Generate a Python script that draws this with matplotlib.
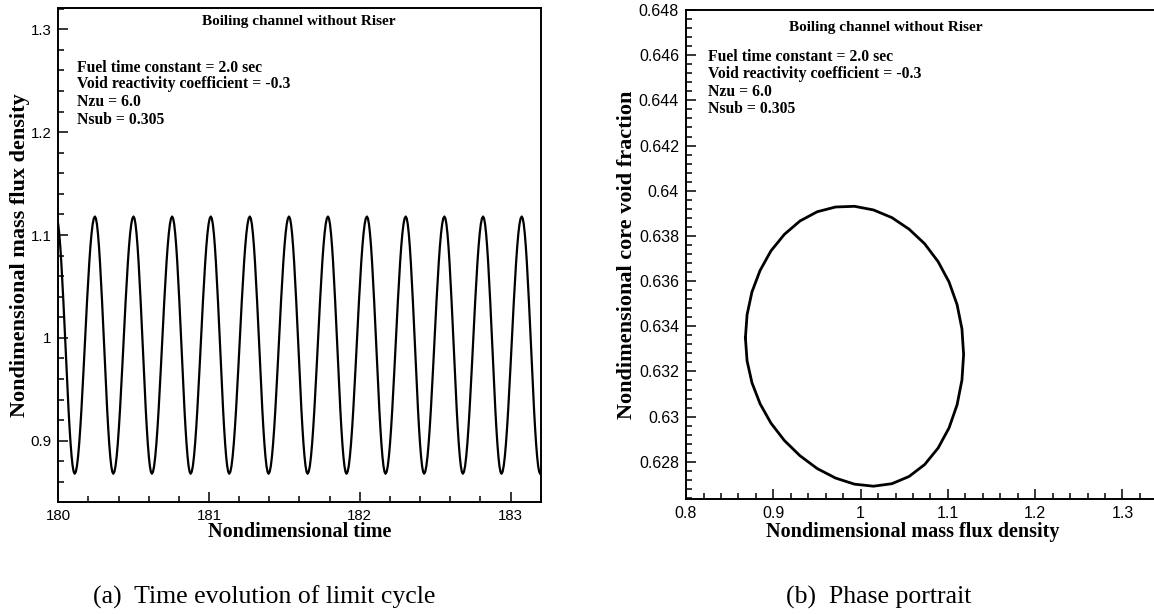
import matplotlib
matplotlib.use("Agg")
import matplotlib.pyplot as plt
from matplotlib.ticker import MultipleLocator, FuncFormatter

# one limit cycle, 36 samples, starting at the mass flux minimum
# fraction of the period at each sample (the rise is a bit slower than the fall)
cycle_phase = [0.0, 0.0291, 0.0581, 0.0872, 0.1162, 0.1453, 0.1743, 0.2034,
               0.2324, 0.2615, 0.2906, 0.3196, 0.3487, 0.3777, 0.4068, 0.4358,
               0.4649, 0.4939, 0.523, 0.5495, 0.576, 0.6025, 0.629, 0.6555,
               0.682, 0.7085, 0.735, 0.7615, 0.788, 0.8145, 0.841, 0.8675,
               0.894, 0.9205, 0.947, 0.9735]
# nondimensional mass flux density
cycle_flux = [0.868, 0.8699, 0.8755, 0.8848, 0.8973, 0.9127, 0.9305, 0.9503,
              0.9713, 0.993, 1.0147, 1.0358, 1.0555, 1.0734, 1.0888, 1.1013,
              1.1105, 1.1161, 1.118, 1.1161, 1.1105, 1.1013, 1.0888, 1.0734,
              1.0555, 1.0358, 1.0147, 0.993, 0.9713, 0.9503, 0.9305, 0.9127,
              0.8973, 0.8848, 0.8755, 0.8699]
# nondimensional core void fraction
cycle_void = [0.63349, 0.63451, 0.63552, 0.63647, 0.63734, 0.63807, 0.63866,
              0.63907, 0.63928, 0.63931, 0.63915, 0.63881, 0.63830, 0.63765,
              0.63686, 0.63596, 0.63496, 0.63388, 0.63275, 0.63162, 0.63052,
              0.62950, 0.62861, 0.62788, 0.62735, 0.62703, 0.62692, 0.62701,
              0.62728, 0.62770, 0.62827, 0.62894, 0.62971, 0.63057, 0.63150,
              0.63247]

# times of the mass flux minima
trough_times = [179.851, 180.109, 180.365, 180.621, 180.878, 181.134, 181.395,
                181.654, 181.912, 182.171, 182.427, 182.684, 182.940, 183.197]

title = "Boiling channel without Riser"
params = ["Fuel time constant = 2.0 sec",
          "Void reactivity coefficient = -0.3",
          "Nzu = 6.0",
          "Nsub = 0.305"]

# time series built from the cycle samples
t = []
g = []
for i in range(len(trough_times) - 1):
    t0, t1 = trough_times[i], trough_times[i + 1]
    for f, v in zip(cycle_phase, cycle_flux):
        t.append(t0 + f * (t1 - t0))
        g.append(v)
t.append(trough_times[-1])
g.append(cycle_flux[0])

serif = "Liberation Serif"
sans = "Liberation Sans"

fig = plt.figure(figsize=(11.54, 6.14), dpi=100)
ax1 = fig.add_axes([0.0505, 0.1829, 0.418, 0.8036])
ax2 = fig.add_axes([0.5945, 0.1868, 0.4107, 0.7969])

fmt = FuncFormatter(lambda v, p: "%g" % round(v, 6))


def style(ax, size):
    for s in ax.spines.values():
        s.set_linewidth(1.4)
    ax.tick_params(which="both", direction="in", top=False, right=False,
                   width=1.1, labelsize=size, pad=5)
    ax.tick_params(which="major", length=7)
    ax.tick_params(which="minor", length=4)
    for lab in ax.get_xticklabels() + ax.get_yticklabels():
        lab.set_fontfamily(sans)
    ax.xaxis.set_major_formatter(fmt)
    ax.yaxis.set_major_formatter(fmt)


# (a) time evolution
ax1.plot(t, g, color="black", lw=1.6, solid_joinstyle="round")
ax1.set_xlim(180, 183.2)
ax1.set_ylim(0.8408, 1.3204)
ax1.xaxis.set_major_locator(MultipleLocator(1))
ax1.xaxis.set_minor_locator(MultipleLocator(0.2))
ax1.yaxis.set_major_locator(MultipleLocator(0.1))
ax1.yaxis.set_minor_locator(MultipleLocator(0.02))
style(ax1, 10.8)
ax1.set_xlabel("Nondimensional time", fontfamily=serif, fontweight="bold",
               fontsize=14.5)
ax1.xaxis.set_label_coords(0.5, -0.041)
ax1.set_ylabel("Nondimensional mass flux density", fontfamily=serif,
               fontweight="bold", fontsize=16)
ax1.yaxis.set_label_coords(-0.059, 0.5)
ax1.text(0.498, 0.966, title, transform=ax1.transAxes, ha="center",
         va="baseline", fontfamily=serif, fontweight="bold", fontsize=11)
for y, s in zip([0.8715, 0.8379, 0.802, 0.7655], params):
    ax1.text(0.038, y, s, transform=ax1.transAxes, ha="left", va="baseline",
             fontfamily=serif, fontweight="bold", fontsize=11.3)

# (b) phase portrait
ax2.plot(cycle_flux + cycle_flux[:1], cycle_void + cycle_void[:1],
         color="black", lw=2.0, solid_joinstyle="round")
ax2.set_xlim(0.8, 1.343)
ax2.set_ylim(0.62634, 0.648)
ax2.xaxis.set_major_locator(MultipleLocator(0.1))
ax2.xaxis.set_minor_locator(MultipleLocator(0.02))
ax2.yaxis.set_major_locator(MultipleLocator(0.002))
ax2.yaxis.set_minor_locator(MultipleLocator(0.0004))
style(ax2, 11.5)
ax2.set_xlabel("Nondimensional mass flux density", fontfamily=serif,
               fontweight="bold", fontsize=14.5)
ax2.xaxis.set_label_coords(0.4775, -0.0464)
ax2.set_ylabel("Nondimensional core void fraction", fontfamily=serif,
               fontweight="bold", fontsize=16)
ax2.yaxis.set_label_coords(-0.1034, 0.5)
ax2.text(0.4224, 0.958, title, transform=ax2.transAxes, ha="center",
         va="baseline", fontfamily=serif, fontweight="bold", fontsize=11)
for y, s in zip([0.8958, 0.8604, 0.8242, 0.7901], params):
    ax2.text(0.047, y, s, transform=ax2.transAxes, ha="left", va="baseline",
             fontfamily=serif, fontweight="bold", fontsize=11.3)

# sub-figure captions
fig.text(93.3 / 1154, 1 - 603.3 / 614, "(a)  Time evolution of limit cycle",
         fontfamily=serif, fontsize=18.5, ha="left", va="baseline")
fig.text(786 / 1154, 1 - 603.3 / 614, "(b)  Phase portrait",
         fontfamily=serif, fontsize=18.5, ha="left", va="baseline")

fig.savefig("out.png", dpi=100)
